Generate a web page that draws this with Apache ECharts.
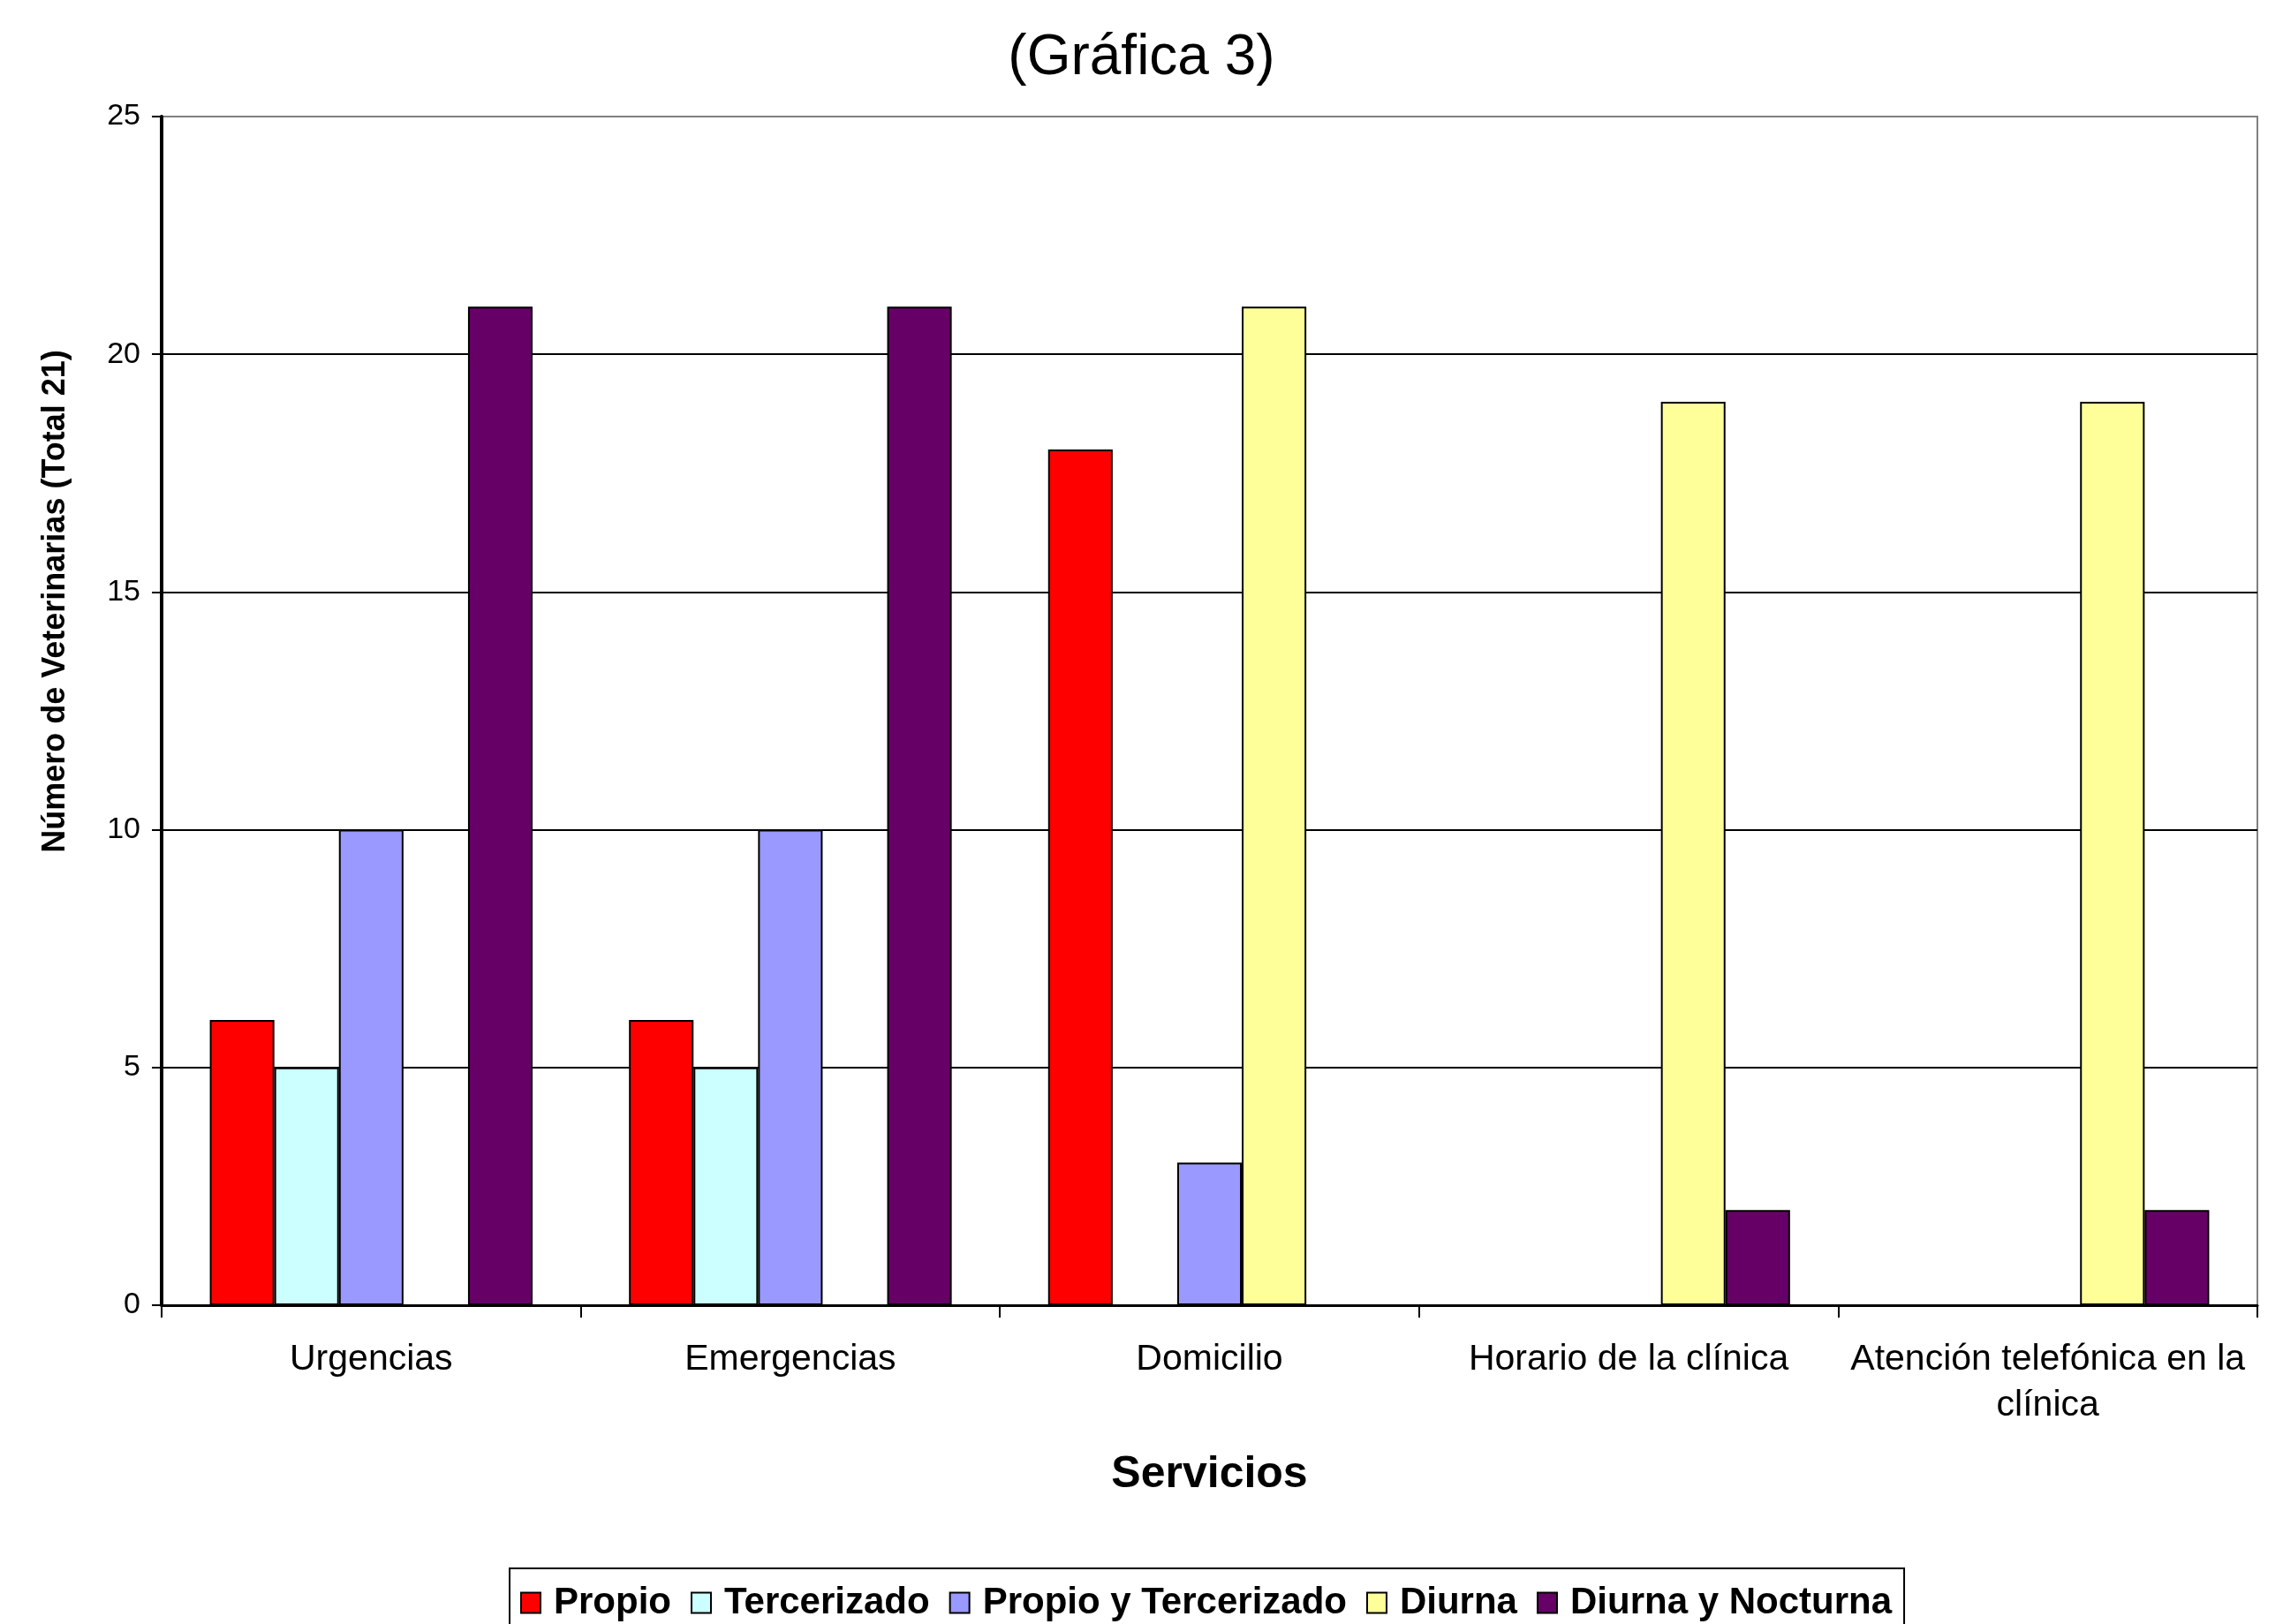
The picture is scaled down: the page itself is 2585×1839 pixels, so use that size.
<!DOCTYPE html>
<html>
<head>
<meta charset="utf-8">
<title>Gráfica 3</title>
<script src="https://cdn.jsdelivr.net/npm/echarts@6/dist/echarts.min.js"></script>
<style>
  html, body { margin: 0; padding: 0; background: #fff; }
  #chart { width: 2585px; height: 1839px; }
</style>
</head>
<body>
<div id="chart"></div>
<script>
// categorías del eje X
const servicios = ['Urgencias', 'Emergencias', 'Domicilio', 'Horario de la clínica', 'Atención telefónica en la\nclínica']
// valores por serie
const propio = [6, 6, 18, 0, 0]
const tercerizado = [5, 5, 0, 0, 0]
const propioYTercerizado = [10, 10, 3, 0, 0]
const diurna = [0, 0, 21, 19, 19]
const diurnaYNocturna = [21, 21, 0, 2, 2]
const yTicks = [0, 5, 10, 15, 20, 25]

const font = 'Liberation Sans, Arial, sans-serif'

const series = [
  { name: 'Propio', data: propio, color: '#FF0000' },
  { name: 'Tercerizado', data: tercerizado, color: '#CCFFFF' },
  { name: 'Propio y Tercerizado', data: propioYTercerizado, color: '#9999FF' },
  { name: 'Diurna', data: diurna, color: '#FFFF99' },
  { name: 'Diurna y Nocturna', data: diurnaYNocturna, color: '#660066' }
].map(s => ({
  name: s.name,
  type: 'bar',
  data: s.data,
  barGap: 0,
  barCategoryGap: '23%',
  itemStyle: { color: s.color, borderColor: '#000', borderWidth: 2 }
}))

const chart = echarts.init(document.getElementById('chart'))
chart.setOption({
  animation: false,
  textStyle: { fontFamily: font },
  title: {
    text: '(Gráfica 3)',
    left: 'center',
    top: 34,
    padding: 0,
    textStyle: { fontFamily: font, fontSize: 64, fontWeight: 'normal', color: '#000' }
  },
  grid: {
    left: 183, right: 29, top: 132, bottom: 361,
    show: true, borderColor: '#808080', borderWidth: 2
  },
  legend: {
    left: 577,
    top: 1776,
    padding: [18, 14, 30, 12],
    borderColor: '#000',
    borderWidth: 2,
    icon: 'rect',
    itemWidth: 22,
    itemHeight: 23,
    itemGap: 22,
    itemStyle: { borderColor: '#000', borderWidth: 2 },
    textStyle: { fontFamily: font, fontSize: 42, fontWeight: 'bold', color: '#000', padding: [0, 0, 0, 10] },
    data: series.map(s => s.name)
  },
  xAxis: {
    type: 'category',
    data: servicios,
    name: 'Servicios',
    nameLocation: 'middle',
    nameGap: 167,
    nameTextStyle: { fontFamily: font, fontSize: 50, fontWeight: 'bold', color: '#000' },
    axisLine: { lineStyle: { color: '#000', width: 3 } },
    axisTick: { show: true, length: 14, lineStyle: { color: '#000', width: 2 } },
    axisLabel: { fontFamily: font, fontSize: 41, color: '#000', margin: 36, lineHeight: 52, interval: 0 }
  },
  yAxis: {
    type: 'value',
    min: yTicks[0],
    max: yTicks[yTicks.length - 1],
    interval: 5,
    axisLine: { show: true, lineStyle: { color: '#000', width: 4 } },
    axisTick: { show: true, length: 11, lineStyle: { color: '#000', width: 2 } },
    axisLabel: { fontFamily: font, fontSize: 34, color: '#000', margin: 24 },
    splitLine: { lineStyle: { color: ['#000', '#000', '#000', '#000', '#000', '#808080'], width: 2 } }
  },
  graphic: [{
    type: 'text',
    x: 63,
    y: 681,
    rotation: Math.PI / 2,
    style: {
      text: 'Número de Veterinarias (Total 21)',
      font: 'bold 36px ' + font,
      fill: '#000',
      align: 'center',
      verticalAlign: 'middle'
    }
  }],
  series: series
})
</script>
</body>
</html>
